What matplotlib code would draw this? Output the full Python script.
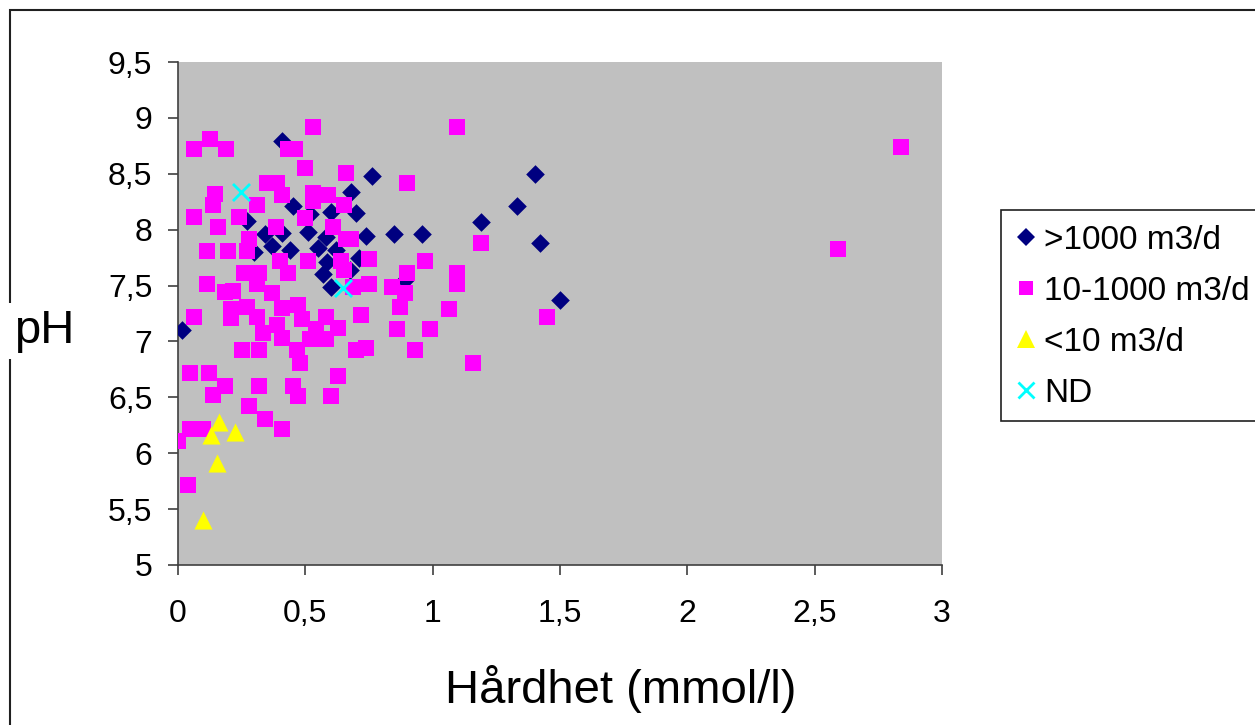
import matplotlib
matplotlib.use("Agg")
import matplotlib.pyplot as plt
from matplotlib.patches import Rectangle
from matplotlib.lines import Line2D

plt.rcParams['font.family'] = ['Liberation Sans', 'DejaVu Sans']

# >1000 m3/d
big_x = [0.016, 0.41, 0.76, 0.68, 0.45, 0.70, 0.60, 0.27, 0.52, 0.51, 0.34, 0.41, 0.74, 0.85,
         0.96, 0.37, 0.44, 0.55, 0.30, 0.58, 0.585, 0.71, 0.57, 0.675, 0.60, 0.89, 1.19, 1.33,
         1.40, 1.42, 1.50, 0.62]
big_y = [7.10, 8.79, 8.48, 8.34, 8.21, 8.15, 8.16, 8.08, 8.14, 7.98, 7.96, 7.97, 7.94, 7.96,
         7.96, 7.85, 7.82, 7.84, 7.80, 7.93, 7.71, 7.75, 7.60, 7.64, 7.49, 7.55, 8.07, 8.21,
         8.50, 7.88, 7.37, 7.82]

# 10-1000 m3/d
mid_x = [0.53, 0.126, 0.063, 0.187, 0.43, 0.46, 0.50, 0.66, 0.35, 0.39, 0.145, 0.41, 0.53, 0.59,
         0.136, 0.31, 0.53, 0.65, 0.063, 0.24, 0.50, 0.156, 0.385, 0.61, 0.28, 0.66, 0.68,
         0.115, 0.198, 0.27, 0.40, 0.51, 0.64, 0.75, 0.65, 0.26, 0.32, 0.43, 0.115, 0.217,
         0.185, 0.31, 0.37, 0.686, 0.75, 0.84,
         0.063, 0.21, 0.27, 0.21, 0.31, 0.41, 0.47, 0.39, 0.485, 0.58, 0.63, 0.72, 0.54,
         0.335, 0.41, 0.52, 0.58, 0.25, 0.32, 0.466, 0.70, 0.74, 0.48, 0.047, 0.123, 0.63,
         0.185, 0.32, 0.45, 0.139, 0.47, 0.60, 0.28, 0.34, 0.41, 0.047, 0.10, 0.0, 0.04,
         1.097, 0.90, 1.19, 0.97, 0.90, 1.097, 1.097, 0.89, 0.87, 1.065, 0.86, 0.99, 1.45,
         0.93, 1.16, 2.59, 2.84]
mid_y = [8.92, 8.81, 8.72, 8.72, 8.72, 8.72, 8.55, 8.51, 8.42, 8.42, 8.32, 8.31, 8.33, 8.31,
         8.22, 8.22, 8.26, 8.22, 8.11, 8.11, 8.10, 8.02, 8.02, 8.02, 7.92, 7.92, 7.92,
         7.81, 7.81, 7.81, 7.72, 7.72, 7.72, 7.74, 7.64, 7.61, 7.61, 7.61, 7.51, 7.45,
         7.44, 7.51, 7.43, 7.49, 7.51, 7.49,
         7.22, 7.29, 7.31, 7.21, 7.22, 7.30, 7.33, 7.15, 7.20, 7.22, 7.12, 7.24, 7.11,
         7.08, 7.03, 7.02, 7.02, 6.92, 6.92, 6.92, 6.92, 6.94, 6.81, 6.72, 6.72, 6.69,
         6.60, 6.60, 6.60, 6.52, 6.51, 6.51, 6.42, 6.31, 6.22, 6.22, 6.22, 6.11, 5.72,
         8.92, 8.42, 7.88, 7.72, 7.61, 7.61, 7.51, 7.43, 7.31, 7.29, 7.11, 7.11, 7.22,
         6.92, 6.81, 7.83, 8.74]

# <10 m3/d
small_x = [0.162, 0.224, 0.13, 0.152, 0.10]
small_y = [6.28, 6.19, 6.16, 5.91, 5.40]

# ND
nd_x = [0.247, 0.648]
nd_y = [8.34, 7.48]

labels = [">1000 m3/d", "10-1000 m3/d", "<10 m3/d", "ND"]
x_ticks = [0, 0.5, 1, 1.5, 2, 2.5, 3]
y_ticks = [5, 5.5, 6, 6.5, 7, 7.5, 8, 8.5, 9, 9.5]

def fmt(v):
    s = ('%g' % v)
    return s.replace('.', ',')

W, H = 1255, 725
fig = plt.figure(figsize=(12.55, 7.25), dpi=100)
ax = fig.add_axes([178/W, (H-565)/H, (942-178)/W, (565-62)/H])
ax.set_facecolor('#C0C0C0')

ax.scatter(big_x, big_y, marker='D', s=90, color='#000080', linewidths=0, zorder=3)
ax.scatter(mid_x, mid_y, marker='s', s=135, color='#FF00FF', linewidths=0, zorder=4)
ax.scatter(small_x, small_y, marker='^', s=170, color='#FFFF00', linewidths=0, zorder=5)
ax.scatter(nd_x, nd_y, marker='x', s=150, color='#00FFFF', linewidths=2, zorder=6)

ax.set_xlim(0, 3)
ax.set_ylim(5, 9.5)
ax.set_xticks(x_ticks)
ax.set_yticks(y_ticks)
ax.set_xticklabels([fmt(v) for v in x_ticks], fontsize=23)
ax.set_yticklabels([fmt(v) for v in y_ticks], fontsize=23)
ax.tick_params(direction='out', length=7.5, width=1.2, color='#404040')
ax.tick_params(axis='x', pad=17)
ax.tick_params(axis='y', pad=11)
for s in ['top', 'right']:
    ax.spines[s].set_visible(False)
for s in ['left', 'bottom']:
    ax.spines[s].set_color('#404040')
    ax.spines[s].set_linewidth(1.2)

fig.text(621/W, 1 - 703/H, 'Hårdhet (mmol/l)', fontsize=34, ha='center', va='baseline')
fig.text(44/W, 1 - 343/H, 'pH', fontsize=34, ha='center', va='baseline',
         bbox=dict(facecolor='white', edgecolor='none', pad=4), zorder=5)

# outer chart frame
fig.add_artist(Rectangle((10/W, -0.1), 1.2, (H-10)/H + 0.1, transform=fig.transFigure,
                         facecolor='none', edgecolor='#202020', linewidth=1.5, zorder=0))
# legend frame
fig.add_artist(Rectangle((1001/W, 1 - 421/H), 0.3, (421-210)/H, transform=fig.transFigure,
                         facecolor='white', edgecolor='#202020', linewidth=1.2, zorder=1))

handles = [
    Line2D([], [], linestyle='none', marker='D', markersize=9, color='#000080', markeredgewidth=0),
    Line2D([], [], linestyle='none', marker='s', markersize=10, color='#FF00FF', markeredgewidth=0),
    Line2D([], [], linestyle='none', marker='^', markersize=13, color='#FFFF00', markeredgewidth=0),
    Line2D([], [], linestyle='none', marker='x', markersize=11, color='#00FFFF', markeredgewidth=2),
]
leg = fig.legend(handles, labels, loc='upper left', bbox_to_anchor=(1006/W, 1 - 218/H),
                 frameon=False, fontsize=24, handlelength=0.8, handletextpad=0.15,
                 labelspacing=0.6, borderaxespad=0, borderpad=0.2)
leg.set_zorder(2)

fig.savefig('out.png', dpi=100)
